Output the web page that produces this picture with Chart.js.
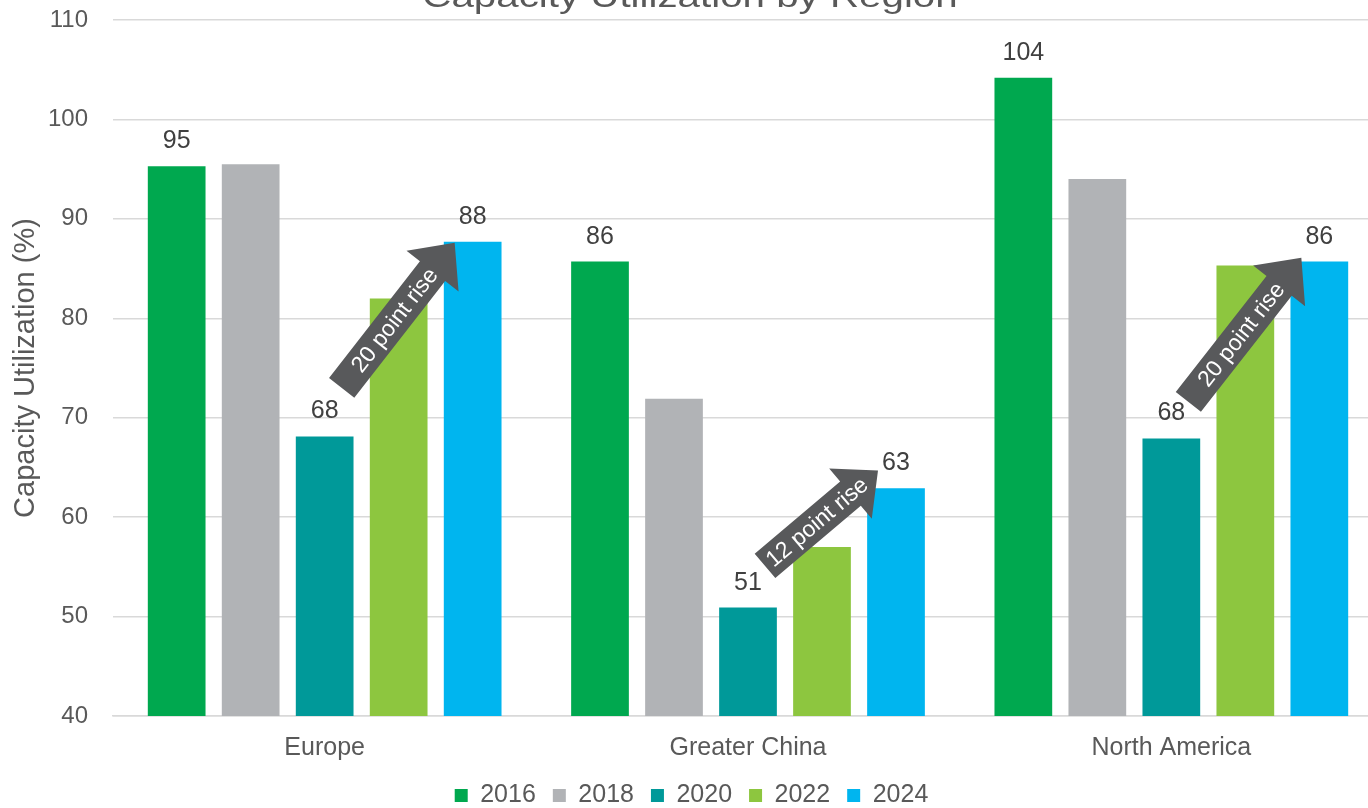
<!DOCTYPE html>
<html>
<head>
<meta charset="utf-8">
<script src="https://cdn.jsdelivr.net/npm/chart.js@4/dist/chart.umd.min.js"></script>
<style>
  html, body { margin: 0; padding: 0; background: #fff; overflow: hidden; }
  /* plot runs a little past the right edge, like the source */
  #wrap { width: 1383px; height: 808px; }
</style>
</head>
<body>
<div id="wrap"><canvas id="chart"></canvas></div>
<script>
/* data */
const regions = ['Europe', 'Greater China', 'North America'];
const years = ['2016', '2018', '2020', '2022', '2024'];
const v2016 = [95.3, 85.7, 104.2];
const v2018 = [95.5, 71.9, 94.0];
const v2020 = [68.1, 50.9, 67.9];
const v2022 = [82.0, 57.0, 85.3];
const v2024 = [87.7, 62.9, 85.7];
const yTicks = [40, 50, 60, 70, 80, 90, 100, 110];
const labelledSeries = [0, 2, 4];   // which years carry a value label
const arrowText = ['20 point rise', '12 point rise', '20 point rise'];
const arrowFrom = [73.0, 55.1, 71.6];
const arrowTo = [87.6, 64.7, 86.1];

const colors = ['#00a84f', '#b1b3b6', '#009999', '#8dc63f', '#00b5ef'];
const FONT = '"Liberation Sans", Arial, sans-serif';

Chart.defaults.font.family = FONT;
Chart.defaults.color = '#595959';

const series = [v2016, v2018, v2020, v2022, v2024];

/* title is cut off at the top edge, like the source */
const titlePlugin = {
  id: 'cutTitle',
  afterDraw(chart) {
    const ctx = chart.ctx;
    ctx.save();
    ctx.translate(690, 7);
    ctx.scale(1.3, 1);
    ctx.font = '31px ' + FONT;
    ctx.fillStyle = '#595959';
    ctx.textAlign = 'center';
    ctx.textBaseline = 'alphabetic';
    ctx.fillText('Capacity Utilization by Region', 0, 0);
    ctx.restore();
  }
};

const valueLabels = {
  id: 'valueLabels',
  afterDatasetsDraw(chart) {
    const ctx = chart.ctx;
    ctx.save();
    ctx.font = '25px ' + FONT;
    ctx.fillStyle = '#404040';
    ctx.textAlign = 'center';
    ctx.textBaseline = 'middle';
    labelledSeries.forEach(di => {
      chart.getDatasetMeta(di).data.forEach((bar, i) => {
        const v = chart.data.datasets[di].data[i];
        ctx.fillText(Math.round(v), bar.x, bar.y - 25);
      });
    });
    ctx.restore();
  }
};

function drawArrow(ctx, x0, y0, x1, y1, text) {
  const ang = Math.atan2(y1 - y0, x1 - x0);
  const len = Math.hypot(x1 - x0, y1 - y0);
  const shaft = 16, head = 33, headLen = 36;
  ctx.save();
  ctx.translate(x0, y0);
  ctx.rotate(ang);
  ctx.beginPath();
  ctx.moveTo(0, -shaft);
  ctx.lineTo(len - headLen, -shaft);
  ctx.lineTo(len - headLen, -head);
  ctx.lineTo(len, 0);
  ctx.lineTo(len - headLen, head);
  ctx.lineTo(len - headLen, shaft);
  ctx.lineTo(0, shaft);
  ctx.closePath();
  ctx.fillStyle = '#58595b';
  ctx.fill();
  ctx.font = '23px ' + FONT;
  ctx.fillStyle = '#ffffff';
  ctx.textAlign = 'center';
  ctx.textBaseline = 'middle';
  ctx.fillText(text, (len - headLen) / 2 + 12, 1);
  ctx.restore();
}

const arrowPlugin = {
  id: 'riseArrows',
  afterDatasetsDraw(chart) {
    const ys = chart.scales.y;
    const m2020 = chart.getDatasetMeta(2).data;
    const m2024 = chart.getDatasetMeta(4).data;
    regions.forEach((r, i) => {
      const x0 = m2020[i].x + 17;
      const x1 = m2024[i].x - 18;
      drawArrow(chart.ctx, x0, ys.getPixelForValue(arrowFrom[i]),
        x1, ys.getPixelForValue(arrowTo[i]), arrowText[i]);
    });
  }
};

new Chart(document.getElementById('chart'), {
  type: 'bar',
  data: {
    labels: regions,
    datasets: years.map((y, i) => ({
      label: y,
      data: series[i],
      backgroundColor: colors[i],
      categoryPercentage: 0.874,
      barPercentage: 0.78
    }))
  },
  options: {
    responsive: true,
    maintainAspectRatio: false,
    animation: false,
    layout: { padding: { top: 20, right: 0, left: 0, bottom: -10 } },
    plugins: {
      legend: {
        position: 'bottom',
        labels: {
          font: { size: 25 }, color: '#595959',
          boxWidth: 13, boxHeight: 13, padding: 17
        }
      },
      tooltip: { enabled: false }
    },
    scales: {
      x: {
        grid: { display: false },
        border: { color: '#d9d9d9', width: 1.5 },
        ticks: { font: { size: 25 }, color: '#595959', padding: 9 },
        afterFit: s => { s.height = 50; }
      },
      y: {
        min: 40, max: 110,
        afterBuildTicks: s => { s.ticks = yTicks.map(v => ({ value: v })); },
        grid: { color: '#d9d9d9', lineWidth: 1.5, drawTicks: false },
        border: { display: false },
        ticks: { font: { size: 24 }, color: '#595959', padding: 25 },
        title: {
          display: true, text: 'Capacity Utilization (%)',
          font: { size: 29 }, color: '#595959', padding: { top: 9, bottom: 0 }
        },
        afterFit: s => { s.width = 113; s.paddingTop = 0; s.paddingBottom = 0; }
      }
    }
  },
  plugins: [titlePlugin, valueLabels, arrowPlugin]
});
</script>
</body>
</html>
